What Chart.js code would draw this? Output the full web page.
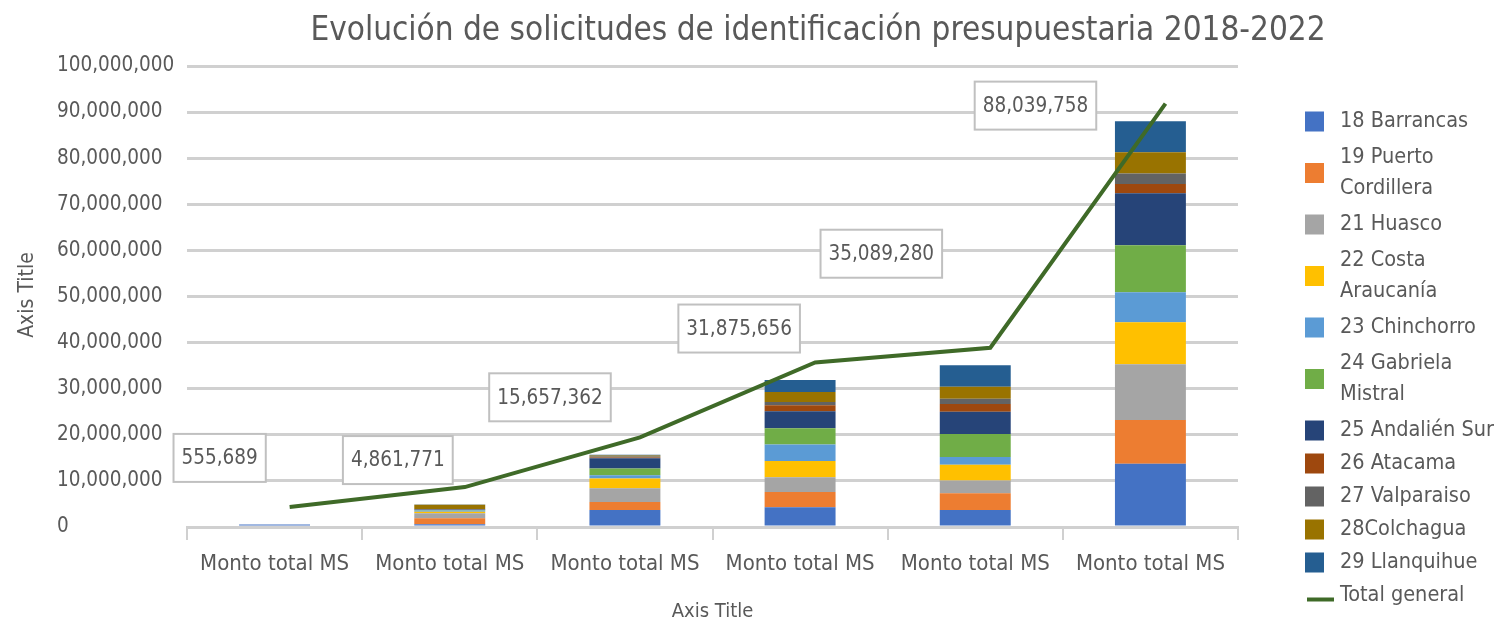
<!DOCTYPE html>
<html><head><meta charset="utf-8">
<script src="https://cdn.jsdelivr.net/npm/chart.js@4.4.0/dist/chart.umd.min.js"></script>
<style>html,body{margin:0;padding:0;background:#fff;}#wrap{width:1496px;height:625px;position:relative;}</style>
</head><body><div id="wrap"><canvas id="c" width="1496" height="625"></canvas></div>
<script>
// ---- data ----
const categories = ['Monto total MS','Monto total MS','Monto total MS','Monto total MS','Monto total MS','Monto total MS'];
const chartTitle = 'Evolución de solicitudes de identificación presupuestaria 2018-2022';
const xAxisTitle = 'Axis Title';
const yAxisTitle = 'Axis Title';
const seriesNames = ['18 Barrancas','19 Puerto Cordillera','21 Huasco','22 Costa Araucanía','23 Chinchorro','24 Gabriela Mistral','25 Andalién Sur','26 Atacama','27 Valparaiso','28Colchagua','29 Llanquihue'];
const s18 = [555689, 600000, 3700000, 4300000, 3700000, 13700000];
const s19 = [0, 1300000, 1700000, 3300000, 3600000, 9500000];
const s21 = [0, 1100000, 3000000, 3200000, 2800000, 12100000];
const s22 = [0, 300000, 2100000, 3500000, 3400000, 9100000];
const s23 = [0, 300000, 700000, 3600000, 1700000, 6500000];
const s24 = [0, 100000, 1500000, 3500000, 5000000, 10200000];
const s25 = [0, 100000, 2200000, 3700000, 4800000, 11300000];
const s26 = [0, 50000, 200000, 1300000, 1700000, 2000000];
const s27 = [0, 50000, 200000, 700000, 1100000, 2300000];
const s28 = [0, 900000, 200000, 2200000, 2600000, 4600000];
const s29 = [0, 61771, 157362, 2575656, 4689280, 6739758];
const totalName = 'Total general';
const totals = [555689, 4861771, 15657362, 31875656, 35089280, 88039758];
const yTickStep = 10000000;
const yMax = 100000000;

// ---- styles ----
const seriesValues = [s18,s19,s21,s22,s23,s24,s25,s26,s27,s28,s29];
const colors = ['#4472C4','#ED7D31','#A5A5A5','#FFC000','#5B9BD5','#70AD47','#264478','#9E480E','#636363','#997300','#255E91'];
const lineColor = '#3f6a28';
const FONT = "'Liberation Sans Narrow', 'DejaVu Sans Condensed', sans-serif";
const TXT = '#595959';
const GRID = '#d0d0d0';

const datasets = [{
  type:'line', label: totalName, order:-1,
  data: totals.map((v,i)=>({x:i, y:v})),
  xAxisID:'x2', yAxisID:'y2',
  borderColor: lineColor, backgroundColor: lineColor, borderWidth:4,
  pointRadius:0, tension:0, fill:false
}];
seriesNames.forEach((n,k)=>datasets.push({
  type:'bar', label:n, data: seriesValues[k], backgroundColor: colors[k],
  borderWidth:0, barPercentage:0.405, categoryPercentage:1, grouped:false, stack:'all',
  xAxisID:'x', yAxisID:'y'
}));

const labelOffsets = [[-70,-49],[-67,-27],[-90,-40],[-76,-34],[-109,-94],[-130,2]];

const decor = {
  id:'decor',
  afterDatasetsDraw(chart){
    const ctx = chart.ctx;
    const meta = chart.getDatasetMeta(0);
    ctx.save();
    ctx.font = "20.5px " + FONT;
    ctx.textAlign='center'; ctx.textBaseline='middle';
    meta.data.forEach((pt,i)=>{
      const txt = totals[i].toLocaleString('en-US');
      const w = ctx.measureText(txt).width + 16, h = 48;
      const cx = pt.x + labelOffsets[i][0], cy = pt.y + labelOffsets[i][1];
      ctx.fillStyle='#fff'; ctx.fillRect(cx-w/2, cy-h/2, w, h);
      ctx.strokeStyle='#c0c0c0'; ctx.lineWidth=2; ctx.strokeRect(cx-w/2, cy-h/2, w, h);
      ctx.fillStyle=TXT; ctx.fillText(txt, cx, cy+1);
    });
    ctx.restore();
  },
  afterDraw(chart){
    const ctx = chart.ctx;
    ctx.save();
    // title
    ctx.font = "33px " + FONT; ctx.fillStyle = TXT; ctx.textAlign='center'; ctx.textBaseline='middle';
    ctx.fillText(chartTitle, 818, 31);
    // y axis title
    ctx.save();
    ctx.font = "21px " + FONT;
    ctx.translate(28, 295); ctx.rotate(-Math.PI/2);
    ctx.fillText(yAxisTitle, 0, 0);
    ctx.restore();
    // legend
    ctx.font = "21.5px " + FONT; ctx.textAlign='left';
    const maxW = 162;
    const items = chart.data.datasets.slice(1).concat([chart.data.datasets[0]]);
    let y = 105;
    items.forEach(ds=>{
      const words = ds.label.split(' ');
      const lines = []; let cur = '';
      words.forEach(wd=>{
        const t = cur ? cur + ' ' + wd : wd;
        if (cur && ctx.measureText(t).width > maxW) { lines.push(cur); cur = wd; } else cur = t;
      });
      lines.push(cur);
      const H = lines.length === 1 ? 33 : 70;
      const cy = y + H/2;
      if (ds.type === 'line') {
        ctx.strokeStyle = ds.borderColor; ctx.lineWidth = 4;
        ctx.beginPath(); ctx.moveTo(1307, cy+4); ctx.lineTo(1334, cy+4); ctx.stroke();
      } else {
        ctx.fillStyle = ds.backgroundColor; ctx.fillRect(1305, cy-10, 19, 20);
      }
      ctx.fillStyle = TXT;
      lines.forEach((ln,j)=>{
        ctx.fillText(ln, 1340, cy + (j - (lines.length-1)/2)*31);
      });
      y += H;
    });
    ctx.restore();
  }
};

new Chart(document.getElementById('c'), {
  type:'bar',
  data: { labels: categories, datasets },
  options: {
    responsive:false, animation:false,
    layout:{padding:{top:66, right:258, bottom:0, left:57}},
    plugins:{ legend:{display:false}, title:{display:false}, tooltip:{enabled:false} },
    scales:{
      x:{ stacked:true, offset:true,
        grid:{ offset:true, drawOnChartArea:false, drawTicks:true, tickLength:13, color:GRID, lineWidth:2 },
        border:{ display:true, color:GRID, width:3 },
        ticks:{ color:TXT, font:{family:FONT, size:22}, padding:11, maxRotation:0, autoSkip:false },
        title:{ display:true, text:xAxisTitle, color:TXT, font:{family:FONT, size:20}, padding:{top:0,bottom:1} },
        afterFit(s){ s.height = 98; }
      },
      y:{ stacked:true, min:0, max:yMax,
        ticks:{ stepSize:yTickStep, color:TXT, font:{family:FONT, size:20.5}, padding:11, crossAlign:'far',
          callback:v=>v.toLocaleString('en-US') },
        grid:{ color:GRID, lineWidth:3, drawTicks:false },
        border:{ display:false },
        afterFit(s){ s.width = 130; }
      },
      x2:{ type:'linear', display:false, offset:false, grid:{offset:false}, min:-0.586, max:5.414 },
      y2:{ type:'linear', display:false, min:-3800000, max:96200000 }
    }
  },
  plugins:[decor]
});
</script></body></html>
